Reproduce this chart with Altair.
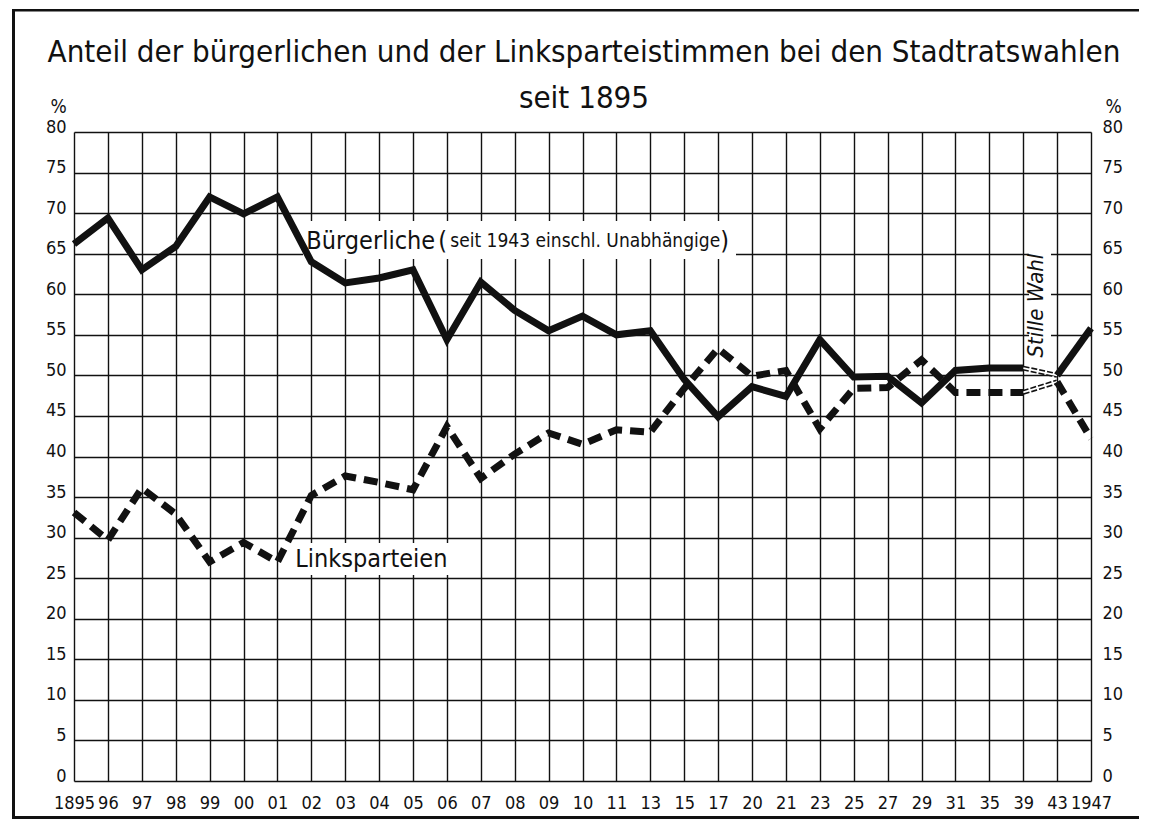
import altair as alt
import pandas as pd

# ---------------- data ----------------
years = ["1895", "96", "97", "98", "99", "00", "01", "02", "03", "04", "05", "06",
         "07", "08", "09", "10", "11", "13", "15", "17", "20", "21", "23", "25",
         "27", "29", "31", "35", "39", "43", "1947"]

buerg = [66.2, 69.4, 63.0, 65.9, 72.0, 69.9, 72.0, 64.0, 61.4, 62.0, 63.0, 54.4,
         61.5, 58.0, 55.5, 57.3, 55.0, 55.5, 49.5, 44.9, 48.6, 47.4, 54.4, 49.8,
         49.9, 46.6, 50.6, 50.9, 50.9, 50.0, 55.8]

links = [33.1, 29.7, 36.1, 32.9, 27.0, 29.4, 27.0, 35.2, 37.6, 36.8, 35.9, 43.7,
         37.3, 40.3, 42.9, 41.5, 43.3, 43.0, 48.4, 53.3, 49.9, 50.6, 43.4, 48.4,
         48.5, 51.9, 47.9, 47.9, 47.9, 49.2, 42.2]

y_ticks = list(range(0, 81, 5))

title_line1 = "Anteil der bürgerlichen und der Linksparteistimmen bei den Stadtratswahlen"
title_line2 = "seit 1895"

FONT = "DejaVu Sans Condensed, Liberation Sans Narrow, DejaVu Sans, sans-serif"
INK = "#111111"
W, H = 1017, 649


def seg_frame(values, series, idx, seg):
    return pd.DataFrame({
        "year": [years[i] for i in idx],
        "value": [values[i] for i in idx],
        "series": series,
        "seg": seg,
    })


main_idx = list(range(0, 29))      # 1895 .. 1939
end_idx = [29, 30]                 # 1943 .. 1947
gap_idx = [28, 29]                 # 1939 -> 1943 (Stille Wahl)

solid_df = pd.concat([seg_frame(buerg, "Bürgerliche", main_idx, "a"),
                      seg_frame(buerg, "Bürgerliche", end_idx, "b")])
dash_df = pd.concat([seg_frame(links, "Linksparteien", main_idx, "a"),
                     seg_frame(links, "Linksparteien", end_idx, "b")])
gap_solid = seg_frame(buerg, "Bürgerliche", gap_idx, "g")
gap_dash = seg_frame(links, "Linksparteien", gap_idx, "g")
axis_df = pd.DataFrame({"year": years, "value": buerg})

x_scale = alt.Scale(type="point", domain=years, padding=0)
y_scale = alt.Scale(domain=[0, 80], nice=False, zero=True)

grid_style = dict(grid=True, gridColor=INK, gridWidth=1.4, gridOpacity=1,
                  domain=False, ticks=False)

x_axis = alt.Axis(labelFont=FONT, labelFontSize=18, labelColor=INK, labelAngle=0,
                  labelPadding=13, title=None, labelOverlap=False, **grid_style)
y_left = alt.Axis(orient="left", values=y_ticks, labelFont=FONT, labelFontSize=18,
                  labelColor=INK, labelBaseline="alphabetic", labelPadding=8,
                  title="%", titleAngle=0, titleX=-16, titleY=-20, titleAlign="center",
                  titleBaseline="alphabetic", titleFont=FONT, titleFontSize=19,
                  titleFontWeight="normal", titleColor=INK, **grid_style)
y_right = alt.Axis(orient="right", values=y_ticks, labelFont=FONT, labelFontSize=18,
                   labelColor=INK, labelBaseline="alphabetic", labelPadding=11,
                   title="%", titleAngle=0, titleX=22, titleY=-20, titleAlign="center",
                   titleBaseline="alphabetic", titleFont=FONT, titleFontSize=19,
                   titleFontWeight="normal", titleColor=INK,
                   grid=False, domain=False, ticks=False)

X = alt.X("year:O", scale=x_scale, axis=x_axis, sort=years)

one = pd.DataFrame({"k": [0]})

# invisible layers carrying the axes and the grid
axes_left = alt.Chart(axis_df).mark_point(opacity=0).encode(
    x=X, y=alt.Y("value:Q", scale=y_scale, axis=y_left))
axes_right = alt.Chart(axis_df).mark_point(opacity=0).encode(
    x=X, y=alt.Y("value:Q", scale=y_scale, axis=y_right))

# white backgrounds behind the in-chart labels (decoration)
bg_b = alt.Chart(one).mark_rect(color="white").encode(
    x=alt.value(229), x2=alt.value(662), y=alt.value(89), y2=alt.value(127))
bg_l = alt.Chart(one).mark_rect(color="white").encode(
    x=alt.value(218), x2=alt.value(376), y=alt.value(411), y2=alt.value(443))
bg_s = alt.Chart(one).mark_rect(color="white").encode(
    x=alt.value(955), x2=alt.value(977), y=alt.value(114), y2=alt.value(227))


def yenc():
    return alt.Y("value:Q", scale=y_scale, axis=None)


solid = alt.Chart(solid_df).mark_line(
    color=INK, strokeWidth=7, strokeJoin="miter", strokeCap="butt"
).encode(x=X, y=yenc(), detail="seg:N")

dashed = alt.Chart(dash_df).mark_line(
    color=INK, strokeWidth=7, strokeDash=[14, 8], strokeJoin="miter", strokeCap="butt"
).encode(x=X, y=yenc(), detail="seg:N")

gap_s_outer = alt.Chart(gap_solid).mark_line(color=INK, strokeWidth=5, strokeDash=[6, 2]).encode(
    x=X, y=yenc())
gap_s_inner = alt.Chart(gap_solid).mark_line(color="white", strokeWidth=1.8).encode(
    x=X, y=yenc())
gap_d_outer = alt.Chart(gap_dash).mark_line(color=INK, strokeWidth=5, strokeDash=[6, 2]).encode(
    x=X, y=yenc())
gap_d_inner = alt.Chart(gap_dash).mark_line(color="white", strokeWidth=1.8).encode(
    x=X, y=yenc())


def label(text, year, value, size, dx, align="left", angle=0, dy=0, style="normal"):
    df = pd.DataFrame({"year": [year], "value": [value], "t": [text]})
    return alt.Chart(df).mark_text(
        font=FONT, fontSize=size, color=INK, align=align, baseline="middle",
        dx=dx, dy=dy, angle=angle, fontStyle=style
    ).encode(x=X, y=yenc(), text="t:N")


lab_b = label("Bürgerliche", "02", 66.6, 25, -5)
lab_p1 = label("(", "02", 66.6, 25, 127)
lab_p_in = label("seit 1943 einschl. Unabhängige", "02", 66.6, 19, 139)
lab_p2 = label(")", "02", 66.6, 25, 409)
lab_l = label("Linksparteien", "02", 27.4, 25, -16)
lab_s = label("Stille Wahl", "39", 58.6, 22, 0, align="center", angle=270, dy=13,
              style="italic")

title1 = alt.Chart(one).mark_text(font=FONT, fontSize=31, color=INK, align="center",
                                  baseline="alphabetic").encode(
    x=alt.value(510), y=alt.value(-70), text=alt.value(title_line1))
title2 = alt.Chart(one).mark_text(font=FONT, fontSize=31, color=INK, align="center",
                                  baseline="alphabetic").encode(
    x=alt.value(510), y=alt.value(-24), text=alt.value(title_line2))

# outer frame (top, left, bottom) of the printed figure, as thin filled bars
frame_top = alt.Chart(one).mark_rect(color=INK).encode(
    x=alt.value(-62), x2=alt.value(W + 48), y=alt.value(-123), y2=alt.value(-120.5))
frame_left = alt.Chart(one).mark_rect(color=INK).encode(
    x=alt.value(-62), x2=alt.value(-59), y=alt.value(-123), y2=alt.value(687))
frame_bottom = alt.Chart(one).mark_rect(color=INK).encode(
    x=alt.value(-62), x2=alt.value(W + 48), y=alt.value(684), y2=alt.value(687))

chart = alt.layer(
    axes_left, axes_right, bg_b, bg_l, bg_s,
    gap_s_outer, gap_s_inner, gap_d_outer, gap_d_inner,
    solid, dashed,
    lab_b, lab_p1, lab_p_in, lab_p2, lab_l, lab_s,
    title1, title2, frame_top, frame_left, frame_bottom,
).resolve_axis(y="independent").properties(
    width=W, height=H,
    autosize=alt.AutoSizeParams(type="none"),
    padding={"left": 66, "top": 124, "right": 51, "bottom": 38},
    background="white",
).configure_view(stroke=None)

chart.save("out.html", embed_options={"renderer": "svg", "actions": False})
